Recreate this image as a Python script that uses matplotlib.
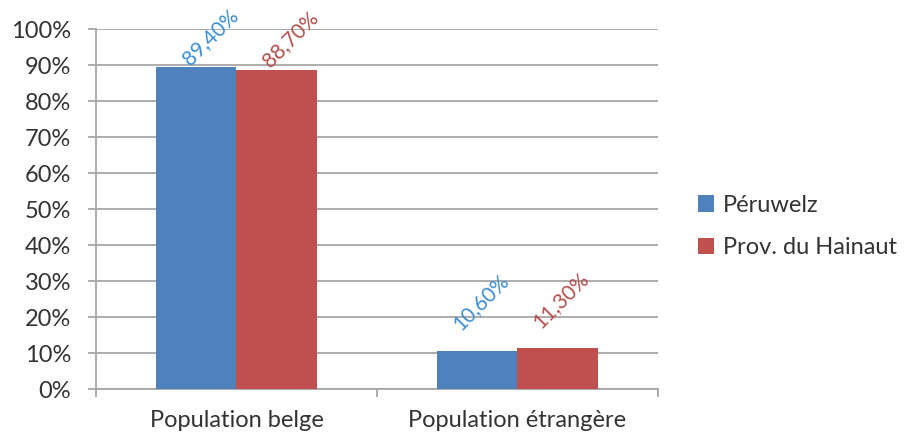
import matplotlib
matplotlib.use("Agg")
import matplotlib.pyplot as plt
from matplotlib.ticker import FixedLocator
import numpy as np

plt.rcParams['font.family'] = ['Lato', 'DejaVu Sans']

categories = ["Population belge", "Population étrangère"]
series = ["Péruwelz", "Prov. du Hainaut"]
peruwelz = [89.4, 10.6]
hainaut = [88.7, 11.3]
labels_peruwelz = ["89,40%", "10,60%"]
labels_hainaut = ["88,70%", "11,30%"]
yticks = [0, 10, 20, 30, 40, 50, 60, 70, 80, 90, 100]

bar_colors = ["#4F81BD", "#C0504D"]
label_colors = ["#3D8FD6", "#B5504D"]
grid_color = "#A6A6A6"
text_color = "#333333"
# label offsets (points) per category group
label_offsets = [(10, 22), (2.5, 35)]

fig = plt.figure(figsize=(9.12, 4.38), dpi=100)
ax = fig.add_axes([96 / 912, 49 / 438, 562 / 912, 360 / 438])

x = np.arange(len(categories))
w = 0.285
b1 = ax.bar(x - w / 2, peruwelz, w, color=bar_colors[0], label=series[0], zorder=3)
b2 = ax.bar(x + w / 2, hainaut, w, color=bar_colors[1], label=series[1], zorder=3)

for bars, labs, col in [(b1, labels_peruwelz, label_colors[0]), (b2, labels_hainaut, label_colors[1])]:
    for i, (rect, lab) in enumerate(zip(bars, labs)):
        ax.annotate(lab, (rect.get_x() + rect.get_width() / 2, rect.get_height()),
                    xytext=label_offsets[i], textcoords="offset points",
                    ha="center", va="center", rotation=45,
                    fontsize=15, color=col, zorder=4,
                    annotation_clip=False, clip_on=False)

ax.set_xlim(-0.5, 1.5)
ax.set_ylim(0, 100)
ax.set_yticks(yticks)
ax.set_yticklabels([f"{t}%" for t in yticks])
ax.yaxis.grid(True, color=grid_color, linewidth=1.3, zorder=0)
ax.set_xticks(x)
ax.set_xticklabels(categories)
ax.xaxis.set_minor_locator(FixedLocator([-0.5, 0.5, 1.5]))

for s in ["top", "right"]:
    ax.spines[s].set_visible(False)
for s in ["left", "bottom"]:
    ax.spines[s].set_color(grid_color)
    ax.spines[s].set_linewidth(1.3)

ax.tick_params(axis="y", length=6, color=grid_color, width=1.3, pad=12,
               labelsize=17, labelcolor=text_color)
ax.tick_params(axis="x", which="major", length=0, pad=15,
               labelsize=17, labelcolor=text_color)
ax.tick_params(axis="x", which="minor", length=6, color=grid_color, width=1.3)

fig.legend(handles=[b1, b2], labels=series, loc="center left",
           bbox_to_anchor=(0.742, 0.483), frameon=False,
           handlelength=0.7, handleheight=0.7, handletextpad=0.35,
           labelspacing=0.9, fontsize=17, labelcolor=text_color)

fig.savefig("out.png", dpi=100)
